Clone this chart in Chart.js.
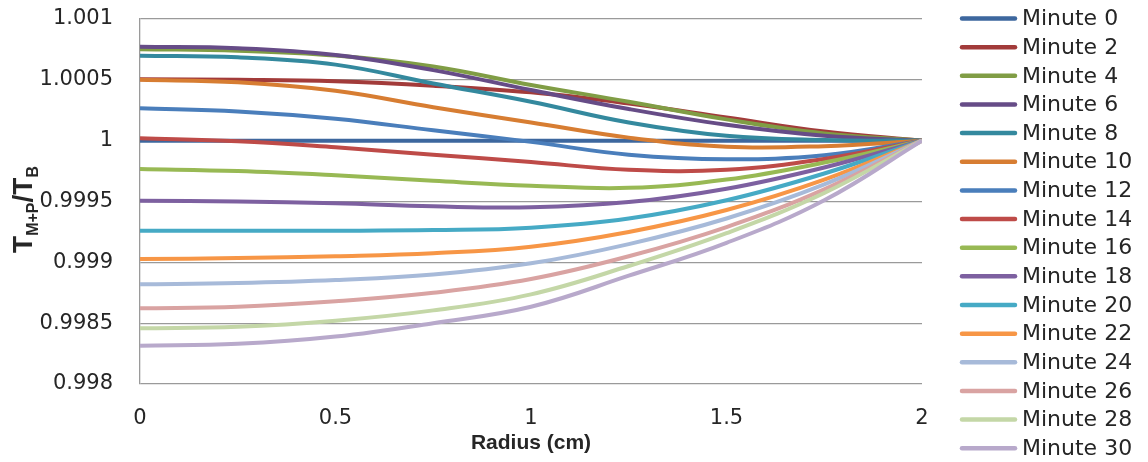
<!DOCTYPE html>
<html><head><meta charset="utf-8">
<script src="https://cdn.jsdelivr.net/npm/chart.js@4.4.0/dist/chart.umd.min.js"></script>
<style>html,body{margin:0;padding:0;background:#fff;} canvas{display:block;}</style>
</head><body>
<canvas id="c" width="1148" height="462"></canvas>
<script>
const radius = [0, 0.25, 0.5, 0.75, 1, 1.25, 1.5, 1.75, 2];
const seriesNames = ['Minute 0','Minute 2','Minute 4','Minute 6','Minute 8','Minute 10','Minute 12','Minute 14',
  'Minute 16','Minute 18','Minute 20','Minute 22','Minute 24','Minute 26','Minute 28','Minute 30'];
const minute0  = [1, 1, 1, 1, 1, 1, 1, 1, 1];
const minute2  = [1.000504, 1.000500, 1.000488, 1.000452, 1.000397, 1.000305, 1.000190, 1.000075, 1];
const minute4  = [1.000751, 1.000740, 1.000700, 1.000610, 1.000458, 1.000320, 1.000175, 1.000060, 1];
const minute6  = [1.000772, 1.000760, 1.000705, 1.000580, 1.000416, 1.000260, 1.000130, 1.000040, 1];
const minute8  = [1.000698, 1.000685, 1.000625, 1.000470, 1.000320, 1.000150, 1.000040, 1.000005, 1];
const minute10 = [1.000500, 1.000480, 1.000410, 1.000275, 1.000150, 1.000025, 0.999950, 0.999955, 1];
const minute12 = [1.000266, 1.000240, 1.000180, 1.000085, 0.999990, 0.999885, 0.999848, 0.999880, 1];
const minute14 = [1.000019, 0.999995, 0.999945, 0.999885, 0.999825, 0.999760, 0.999760, 0.999850, 1];
const minute16 = [0.999767, 0.999750, 0.999715, 0.999670, 0.999630, 0.999612, 0.999680, 0.999820, 1];
const minute18 = [0.999507, 0.999500, 0.999485, 0.999460, 0.999452, 0.999495, 0.999605, 0.999780, 1];
const minute20 = [0.999260, 0.999260, 0.999260, 0.999265, 0.999285, 0.999360, 0.999510, 0.999730, 1];
const minute22 = [0.999027, 0.999035, 0.999050, 0.999075, 0.999129, 0.999250, 0.999430, 0.999680, 1];
const minute24 = [0.998819, 0.998830, 0.998855, 0.998900, 0.998992, 0.999150, 0.999360, 0.999640, 1];
const minute26 = [0.998622, 0.998635, 0.998680, 0.998750, 0.998863, 0.999050, 0.999290, 0.999600, 1];
const minute28 = [0.998458, 0.998470, 0.998520, 0.998605, 0.998737, 0.998970, 0.999240, 0.999570, 1];
const minute30 = [0.998315, 0.998330, 0.998390, 0.998500, 0.998635, 0.998890, 0.999160, 0.999510, 1];
const yTicks = [0.998, 0.9985, 0.999, 0.9995, 1, 1.0005, 1.001];
const xTicks = [0, 0.5, 1, 1.5, 2];
const colors = ['#3D679E','#A23B3A','#809D45','#664C87','#34899E','#D77D32','#4A7EBB','#BE4B48',
  '#98B954','#7D60A0','#46AAC5','#F79646','#A7BAD9','#D9A3A2','#C4D7A7','#B8A9CB'];

const seriesValues = [minute0, minute2, minute4, minute6, minute8, minute10, minute12, minute14,
  minute16, minute18, minute20, minute22, minute24, minute26, minute28, minute30];

const datasets = seriesNames.map((name, i) => ({
  label: name,
  data: radius.map((r, j) => ({x: r, y: seriesValues[i][j]})),
  borderColor: colors[i],
  backgroundColor: colors[i],
  borderWidth: 4,
  pointRadius: 0,
  tension: 0.4,
  fill: false,
  order: -i
}));

const TEXT = '#262626';

const extras = {
  id: 'extras',
  afterDraw(chart) {
    const ctx = chart.ctx;
    const area = chart.chartArea;
    // Y axis title: T_{M+P} / T_B
    ctx.save();
    const cy = (area.top + area.bottom) / 2 + 8;
    ctx.translate(32, cy);
    ctx.rotate(-Math.PI / 2);
    ctx.fillStyle = TEXT;
    ctx.textBaseline = 'alphabetic';
    const big = 'bold 28px "Liberation Sans"';
    const small = 'bold 16px "Liberation Sans"';
    const parts = [['T', big, 0], ['M+P', small, 6], ['/', big, 0], ['T', big, 0], ['B', small, 6]];
    let total = 0;
    parts.forEach(p => { ctx.font = p[1]; total += ctx.measureText(p[0]).width; });
    let x = -total / 2;
    parts.forEach(p => { ctx.font = p[1]; ctx.fillText(p[0], x, p[2]); x += ctx.measureText(p[0]).width; });
    ctx.restore();

    // Legend
    ctx.save();
    ctx.font = '22px "DejaVu Sans"';
    ctx.textBaseline = 'middle';
    ctx.textAlign = 'left';
    chart.data.datasets.forEach((ds, i) => {
      const y = 18.5 + i * 28.65;
      ctx.strokeStyle = ds.borderColor;
      ctx.lineWidth = 4.5;
      ctx.lineCap = 'round';
      ctx.beginPath();
      ctx.moveTo(962, y);
      ctx.lineTo(1015, y);
      ctx.stroke();
      ctx.fillStyle = TEXT;
      ctx.fillText(ds.label, 1022, y + 1);
    });
    ctx.restore();
  }
};

new Chart(document.getElementById('c'), {
  type: 'line',
  data: { datasets },
  options: {
    responsive: false,
    animation: false,
    devicePixelRatio: 1,
    layout: { padding: { left: 0, right: 226, top: 19, bottom: 0 } },
    plugins: { legend: { display: false }, tooltip: { enabled: false } },
    scales: {
      x: {
        type: 'linear', min: 0, max: 2,
        afterBuildTicks: s => { s.ticks = xTicks.map(v => ({value: v})); },
        afterFit: s => { s.height = 78; s.paddingLeft = 0; s.paddingRight = 0; s.paddingTop = 0; s.paddingBottom = 0; },
        grid: { display: false, drawTicks: false },
        border: { display: false },
        ticks: { padding: 22, color: TEXT, font: { family: 'DejaVu Sans', size: 21 }, maxRotation: 0,
          callback: v => String(v) },
        title: { display: true, text: 'Radius (cm)', color: TEXT,
          font: { family: 'Liberation Sans', weight: 'bold', size: 21 }, padding: { top: 0, bottom: 6 } }
      },
      y: {
        type: 'linear', min: 0.998, max: 1.001,
        afterBuildTicks: s => { s.ticks = yTicks.map(v => ({value: v})); },
        afterFit: s => { s.width = 140; s.paddingTop = 0; s.paddingBottom = 0; s.paddingLeft = 0; s.paddingRight = 0; },
        grid: { color: '#9a9a9a', lineWidth: 1.3, drawTicks: false },
        border: { display: true, color: '#9a9a9a', width: 1.3 },
        ticks: { padding: 27, color: TEXT, font: { family: 'DejaVu Sans', size: 21 },
          callback: v => String(+Number(v).toFixed(4)) }
      }
    }
  },
  plugins: [extras]
});
</script>
</body></html>
